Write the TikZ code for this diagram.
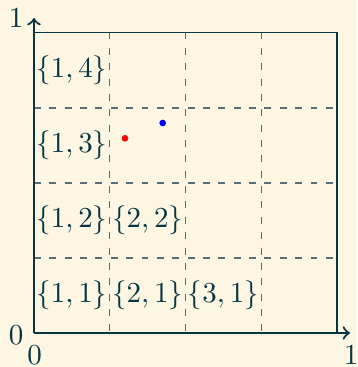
\documentclass[tikz,border=0pt]{standalone}
\usepackage{xcolor}
\definecolor{bgc}{HTML}{FDF6E3}
\definecolor{ink}{HTML}{073642}
\definecolor{gridc}{HTML}{586E75}
\begin{document}
\begin{tikzpicture}[x=0.345pt,y=-0.345pt,
  axisline/.style={ink,line width=0.75pt,->},
  gridline/.style={gridc,dash pattern=on 2.4pt off 2.9pt,line width=0.4pt},
  border/.style={ink,line width=0.45pt},
  cell/.style={text=ink,inner sep=0pt},
  ticklab/.style={text=ink,inner sep=0pt},
  dot/.style={circle,inner sep=0pt,minimum size=2.3pt}]
\fill[bgc] (0,0) rectangle (357,367);
\useasboundingbox (0,0) rectangle (357,367);
% grid
\foreach \x in {109.75,185.5,261.25} \draw[gridline] (\x,32.5) -- (\x,333);
\foreach \y in {108,183,258} \draw[gridline] (34,\y) -- (337,\y);
% border
\coordinate (O) at (34,333);
\coordinate (TL) at (34,32.5);
\coordinate (TR) at (337,32.5);
\coordinate (BR) at (337,333);
\draw[border] (TL) -- (TR) -- (BR);
% axes
\coordinate (XT) at (350,333);
\coordinate (YT) at (34,18);
\draw[axisline] (O) -- (XT);
\draw[axisline] (O) -- (YT);
% tick labels
\node[ticklab] (y1) at (16,18) {$1$};
\node[ticklab] (y0) at (16,335) {$0$};
\node[ticklab] (x0) at (34.5,355.5) {$0$};
\node[ticklab] (x1) at (351,355.5) {$1$};
% cell labels
\node[cell] (c14) at (71.9,70.5) {$\{1,4\}$};
\node[cell] (c13) at (71.9,145.5) {$\{1,3\}$};
\node[cell] (c12) at (71.9,220.5) {$\{1,2\}$};
\node[cell] (c11) at (71.9,295.5) {$\{1,1\}$};
\node[cell] (c22) at (147.6,220.5) {$\{2,2\}$};
\node[cell] (c21) at (147.6,295.5) {$\{2,1\}$};
\node[cell] (c31) at (223.4,295.5) {$\{3,1\}$};
% points
\node[dot,fill=red] (pr) at (125,138.3) {};
\node[dot,fill=blue] (pb) at (162.7,123) {};
\end{tikzpicture}
\end{document}
